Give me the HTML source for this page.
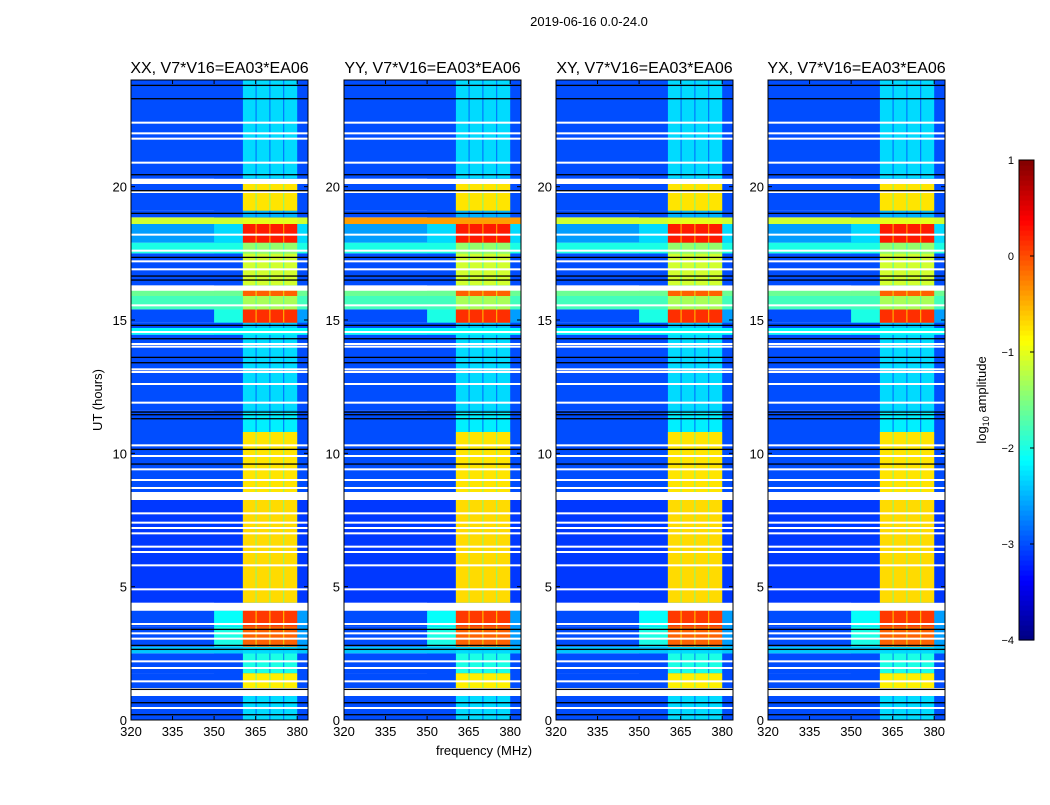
<!DOCTYPE html>
<html><head><meta charset="utf-8"><style>
body{margin:0;background:#fff;width:1050px;height:800px;overflow:hidden}
svg text{font-family:"Liberation Sans",sans-serif;fill:#000}
</style></head><body>
<svg id="fig" width="1050" height="800" xmlns="http://www.w3.org/2000/svg">
<text x="589" y="26" font-size="13" text-anchor="middle">2019-06-16 0.0-24.0</text>
<text x="484" y="755" font-size="13" text-anchor="middle">frequency (MHz)</text>
<text transform="translate(102,400) rotate(-90)" font-size="13" text-anchor="middle">UT (hours)</text>
<text transform="translate(986,400) rotate(-90)" font-size="13" text-anchor="middle">log<tspan font-size="9" dy="3">10</tspan><tspan dy="-3"> amplitude</tspan></text>
</svg>
<script>
const panelTitles=["XX, V7*V16=EA03*EA06","YY, V7*V16=EA03*EA06","XY, V7*V16=EA03*EA06","YX, V7*V16=EA03*EA06"];
const panelLefts=[131,344,556,768];
const xTicks=[320,335,350,365,380];
const yTicks=[0,5,10,15,20];
const cbTicks=[1,0,-1,-2,-3,-4];
// time segments: start hour, end hour, background log-amp, RFI-band log-amp, halo log-amp (350-360 MHz)
const segStart=[0,0.9,1.2,1.76,2.5,2.75,3.5,4.1,4.4,8.25,8.55,10.8,11.6,14.45,14.7,14.9,15.4,15.9,16.1,16.3,17.5,17.9,18.6,18.85,19.1,20.1,20.3];
const segEnd=[0.9,1.2,1.76,2.5,2.75,3.5,4.1,4.4,8.25,8.55,10.8,11.6,14.45,14.7,14.9,15.4,15.9,16.1,16.3,17.5,17.9,18.6,18.85,19.1,20.1,20.3,24];
const segBg=[-3,-3.2,-3,-3,-2.4,-3,-3,-3,-3.1,-3,-3,-3,-3,-2.1,-3,-3,-1.8,-1.6,-3,-3,-2.0,-2.6,-1.1,-3,-3,-3,-3];
const segRfi=[-2.3,-2.3,-0.8,-2.0,-2.3,-0.1,0.1,-3,-0.7,-3,-0.75,-2.2,-2.3,-2.1,-2.4,0.15,-1.3,-0.1,-3,-1.1,-1.4,0.25,-1.0,-2.5,-0.75,-3,-2.3];
const segHalo=[-3,-3.2,-3,-3,-2.4,-2.0,-2.1,-3,-3.1,-3,-3.0,-3,-3,-2.1,-3,-2.0,-1.9,-1.8,-3,-3,-2.0,-2.3,-1.1,-3,-3,-3,-3];
const segFlag=[0,1,0,0,0,0,0,1,0,1,0,0,0,0,0,0,0,0,1,0,0,0,0,0,0,1,0];
// per-panel boost of the 18 h broadband RFI
const band18Boost=[0,0.7,0,0];
// thin flagged rows (white) and dense rows (black), hours
const whiteLines=[0.45,1.45,1.95,2.2,3.05,3.25,3.6,4.9,5.8,6.3,6.5,7.0,7.2,7.4,7.75,8.7,9.0,9.4,9.9,10.3,11.9,12.6,13.05,13.15,14.0,14.1,14.55,15.55,16.9,17.2,17.6,18.2,19.8,20.9,22.0,22.4,21.8];
const blackLines=[0.2,0.65,1.15,2.65,2.8,3.4,9.6,10.15,11.3,11.45,11.55,13.4,13.6,14.3,14.8,16.5,16.65,17.35,19.0,19.85,20.45,23.3,23.8];
const rfiBlocks=[[360.4,365.0],[365.3,370.0],[370.3,375.0],[375.3,380.0]];
const NS="http://www.w3.org/2000/svg";
const svg=document.getElementById('fig');
const plotTop=80,plotBottom=720,pw=177,fMin=320,fMax=383.9,vMin=-4,vMax=1;
function yOf(h){return plotBottom-(h/24)*(plotBottom-plotTop);}
function xOf(p,f){return panelLefts[p]+(f-fMin)/(fMax-fMin)*pw;}
function jet(v){let t=(v-vMin)/(vMax-vMin);t=Math.max(0,Math.min(1,t));
 const c=x=>Math.round(255*Math.max(0,Math.min(1,x)));
 const r=1.5-Math.abs(4*t-3),g=1.5-Math.abs(4*t-2),b=1.5-Math.abs(4*t-1);
 return `rgb(${c(r)},${c(g)},${c(b)})`;}
function mk(tag,attrs,parent){const e=document.createElementNS(NS,tag);for(const k in attrs)e.setAttribute(k,attrs[k]);(parent||svg).appendChild(e);return e;}
function txt(s,x,y,size,anchor,parent){const t=mk('text',{x:x,y:y,'font-size':size,'text-anchor':anchor},parent);t.textContent=s;return t;}
for(let p=0;p<4;p++){
 const L=panelLefts[p];
 const g=mk('g',{});
 
 
 for(let i=0;i<segStart.length;i++){
  const y1=yOf(segEnd[i]),y0=yOf(segStart[i]);
  if(segFlag[i]){const r=mk('rect',{x:L,y:y1,width:pw,height:y0-y1,fill:'#fff'},g);
   continue;}
  let bg=segBg[i],rf=segRfi[i],ha=segHalo[i];
  if(segStart[i]===18.6){bg+=band18Boost[p];ha+=band18Boost[p];}
  const c=mk('rect',{x:L,y:y1,width:pw,height:y0-y1,fill:jet(bg)},g);
  
  const hx=xOf(p,350);
  const h=mk('rect',{x:hx,y:y1,width:xOf(p,360.4)-hx,height:y0-y1,fill:jet(Math.max(bg,ha))},g);
  
  const gx=xOf(p,360.4);
  const gp=mk('rect',{x:gx,y:y1,width:xOf(p,380)-gx,height:y0-y1,fill:jet(Math.max(bg,rf-0.9))},g);
  
  const ex=xOf(p,380);
  const ed=mk('rect',{x:ex,y:y1,width:xOf(p,383.9)-ex,height:y0-y1,fill:jet(Math.max(bg,Math.min(ha,bg+0.4)))},g);
  
  for(const b of rfiBlocks){
   const bx=xOf(p,b[0]);
   const r=mk('rect',{x:bx,y:y1,width:xOf(p,b[1])-bx,height:y0-y1,fill:jet(Math.max(bg,rf))},g);
   
  }
 }
 for(const w of whiteLines){const r=mk('rect',{x:L,y:yOf(w)-1,width:pw,height:2,fill:'#fff'},g);
  }
 for(const b of blackLines){const r=mk('rect',{x:L,y:yOf(b)-0.6,width:pw,height:1.3,fill:'#000'},g);
  }
 const fr=mk('rect',{x:L,y:plotTop,width:pw,height:plotBottom-plotTop,fill:'none',stroke:'#000','stroke-width':1});
 
 const t=txt(panelTitles[p],L+pw/2,73,16,'middle');
 
 for(const f of xTicks){const x=xOf(p,f);
  mk('line',{x1:x,x2:x,y1:plotBottom,y2:plotBottom-4,stroke:'#000'});mk('line',{x1:x,x2:x,y1:plotTop,y2:plotTop+4,stroke:'#000'});
  const tl=txt(String(f),x,736,13,'middle');}
 for(const v of yTicks){const y=yOf(v);
  mk('line',{x1:L,x2:L+4,y1:y,y2:y,stroke:'#000'});mk('line',{x1:L+pw,x2:L+pw-4,y1:y,y2:y,stroke:'#000'});
  const tl=txt(String(v),L-4,y+5,13,'end');}
}
// colorbar
const cbX=1019,cbW=15,cbTop=160,cbBot=640;
const cb=mk('g',{});


for(let k=0;k<96;k++){const v=vMin+(k+0.5)/96*(vMax-vMin);const y=cbBot-(k+1)/96*(cbBot-cbTop);
 mk('rect',{x:cbX,y:y,width:cbW,height:(cbBot-cbTop)/96+0.6,fill:jet(v)},cb);}
mk('rect',{x:cbX,y:cbTop,width:cbW,height:cbBot-cbTop,fill:'none',stroke:'#000'},cb);
for(const v of cbTicks){const y=cbBot-(v-vMin)/(vMax-vMin)*(cbBot-cbTop);
 mk('line',{x1:cbX+cbW-4,x2:cbX+cbW,y1:y,y2:y,stroke:'#000'},cb);
 const tl=txt((v<0?'\u2212':'')+Math.abs(v),1014,y+4,11,'end',cb);
 }
</script>
</body></html>
